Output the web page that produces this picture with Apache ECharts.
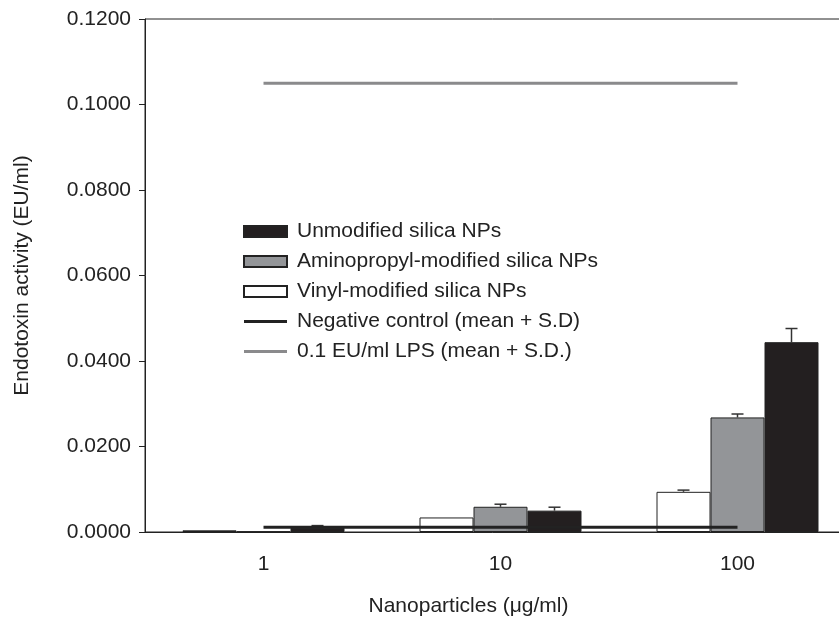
<!DOCTYPE html>
<html>
<head>
<meta charset="utf-8">
<script src="https://cdn.jsdelivr.net/npm/echarts@6/dist/echarts.min.js"></script>
<style>
  html, body { margin: 0; padding: 0; background: #fff; }
  #chart { width: 839px; height: 617px; }
</style>
</head>
<body>
<div id="chart"></div>
<script>
var categories = ['1', '10', '100'];
var vinyl = [0.0004, 0.0034, 0.0094];
var vinylErr = [0.0000, 0.0000, 0.0004];
var amino = [0.0001, 0.0059, 0.0268];
var aminoErr = [0.0000, 0.0006, 0.0008];
var unmod = [0.0010, 0.0050, 0.0444];
var unmodErr = [0.0005, 0.0008, 0.0032];
var negControl = [0.0011, 0.0011, 0.0011];
var lps = [0.1050, 0.1050, 0.1050];

var font = 'Liberation Sans, Arial, Helvetica, sans-serif';
var BAR_W = 54;

function errSeries(vals, errs, idx) {
    return {
        type: 'custom',
        silent: true,
        z: 1,
        data: vals.map(function(v, i) { return [i, v, v + errs[i]]; }),
        renderItem: function(params, api) {
            var base = api.coord([api.value(0), api.value(1)]);
            var top = api.coord([api.value(0), api.value(2)]);
            var x = base[0] + (idx - 1) * BAR_W;
            var style = { stroke: '#333', lineWidth: 1.5 };
            if (api.value(2) - api.value(1) <= 0) return null;
            return {
                type: 'group',
                children: [
                    { type: 'line', shape: { x1: x, y1: base[1], x2: x, y2: top[1] }, style: style },
                    { type: 'line', shape: { x1: x - 6, y1: top[1], x2: x + 6, y2: top[1] }, style: style }
                ]
            };
        }
    };
}

var myChart = echarts.init(document.getElementById('chart'));
var option = {
    animation: false,
    textStyle: { fontFamily: font },
    grid: {
        left: 145, top: 19, width: 711, height: 513,
        containLabel: false, outerBoundsMode: 'none',
        show: true, borderColor: '#222', borderWidth: 1
    },
    legend: {
        left: 243, top: 221, orient: 'vertical', padding: 0,
        itemWidth: 43, itemHeight: 11, itemGap: 9,
        textStyle: { fontSize: 21, lineHeight: 21, color: '#222', fontFamily: font, padding: [0, 0, 0, 5] },
        data: [
            { name: 'Unmodified silica NPs', icon: 'rect' },
            { name: 'Aminopropyl-modified silica NPs', icon: 'rect' },
            { name: 'Vinyl-modified silica NPs', icon: 'rect' },
            { name: 'Negative control (mean + S.D)', icon: 'path://M0,0 L43,0 L43,3 L0,3 Z', itemStyle: { color: '#222' } },
            { name: '0.1 EU/ml LPS (mean + S.D.)', icon: 'path://M0,0 L43,0 L43,3 L0,3 Z', itemStyle: { color: '#8a8a8c' } }
        ]
    },
    xAxis: {
        type: 'category',
        data: categories,
        name: 'Nanoparticles (μg/ml)',
        nameLocation: 'middle',
        nameGap: 64,
        nameTextStyle: { fontSize: 21, color: '#222', padding: [0, 64, 0, 0] },
        axisLine: { lineStyle: { color: '#222', width: 1 } },
        axisTick: { length: 8, lineStyle: { color: '#222' } },
        axisLabel: { fontSize: 21, color: '#222', margin: 22 }
    },
    yAxis: {
        type: 'value',
        min: 0, max: 0.12, interval: 0.02,
        name: 'Endotoxin activity (EU/ml)',
        nameLocation: 'middle',
        nameGap: 112,
        nameTextStyle: { fontSize: 21, color: '#222' },
        axisLine: { show: true, lineStyle: { color: '#222', width: 1 } },
        axisTick: { show: true, length: 6, lineStyle: { color: '#222' } },
        splitLine: { show: false },
        axisLabel: {
            fontSize: 21, color: '#222', margin: 14,
            formatter: function(v) { return v.toFixed(4); }
        }
    },
    series: [
        {
            name: 'Vinyl-modified silica NPs', type: 'bar', data: vinyl,
            barWidth: BAR_W, barGap: '0%',
            itemStyle: { color: '#ffffff', borderColor: '#222', borderWidth: 1 }
        },
        {
            name: 'Aminopropyl-modified silica NPs', type: 'bar', data: amino,
            barWidth: BAR_W, barGap: '0%',
            itemStyle: { color: '#939598', borderColor: '#222', borderWidth: 1 }
        },
        {
            name: 'Unmodified silica NPs', type: 'bar', data: unmod,
            barWidth: BAR_W, barGap: '0%',
            itemStyle: { color: '#231f20', borderColor: '#222', borderWidth: 1 }
        },
        errSeries(vinyl, vinylErr, 0),
        errSeries(amino, aminoErr, 1),
        errSeries(unmod, unmodErr, 2),
        {
            name: 'Negative control (mean + S.D)', type: 'line', data: negControl,
            symbol: 'none', z: 3,
            lineStyle: { color: '#222', width: 3 }, itemStyle: { color: '#222' }
        },
        {
            name: '0.1 EU/ml LPS (mean + S.D.)', type: 'line', data: lps,
            symbol: 'none',
            lineStyle: { color: '#8a8a8c', width: 3 }, itemStyle: { color: '#8a8a8c' }
        }
    ]
};
myChart.setOption(option);
</script>
</body>
</html>
